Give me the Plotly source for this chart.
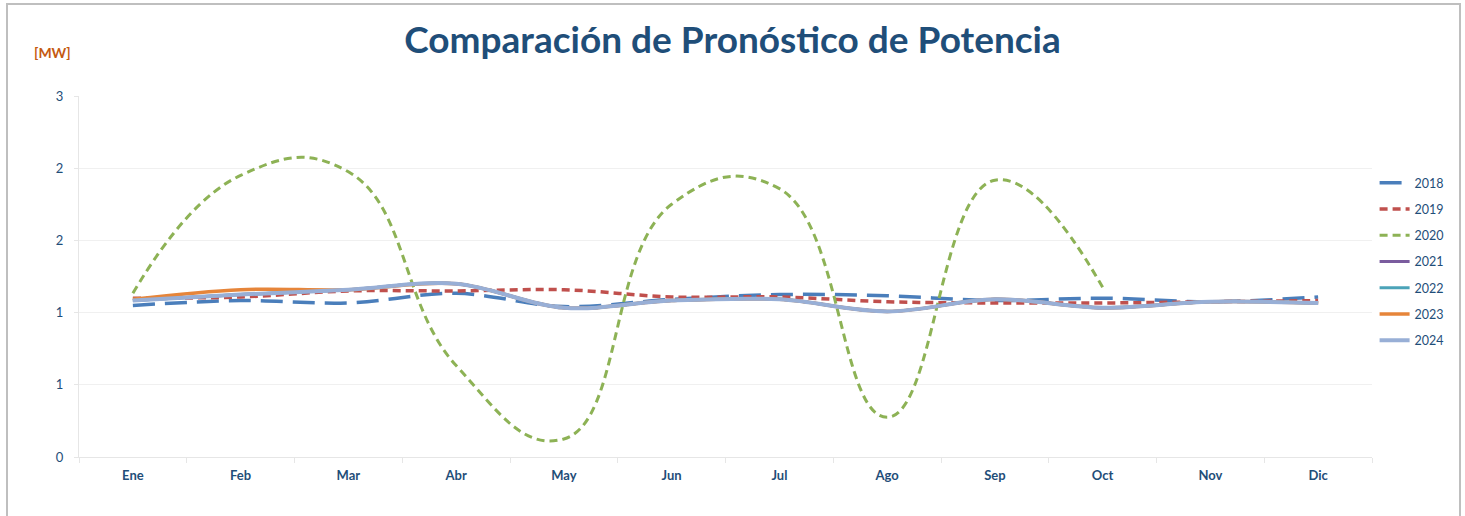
import plotly.graph_objects as go

meses = ['Ene', 'Feb', 'Mar', 'Abr', 'May', 'Jun', 'Jul', 'Ago', 'Sep', 'Oct', 'Nov', 'Dic']

p2018 = [1.26, 1.30, 1.28, 1.36, 1.25, 1.31, 1.35, 1.34, 1.30, 1.32, 1.29, 1.33]
p2019 = [1.32, 1.33, 1.38, 1.38, 1.39, 1.33, 1.33, 1.29, 1.28, 1.28, 1.29, 1.30]
p2020 = [1.36, 2.34, 2.37, 0.76, 0.15, 2.10, 2.23, 0.33, 2.30, 1.41, None, None]
p2021 = [1.30, 1.35, 1.39, 1.44, 1.24, 1.30, 1.31, 1.21, 1.31, 1.24, 1.29, 1.28]
p2022 = [1.30, 1.35, 1.39, 1.44, 1.24, 1.30, 1.31, 1.21, 1.31, 1.24, 1.29, 1.28]
p2023 = [1.31, 1.39, 1.39, 1.44, 1.24, 1.30, 1.31, 1.21, 1.31, 1.24, 1.29, 1.28]
p2024 = [1.30, 1.35, 1.39, 1.44, 1.24, 1.30, 1.31, 1.21, 1.31, 1.24, 1.29, 1.28]

# nombre, valores, color, ancho, guion, suavizado
series = [
    ('2018', p2018, '#4A7EBB', 3.5, '22px,10px', 1.0),
    ('2019', p2019, '#C0504D', 3.5, '8px,5px', 1.0),
    ('2020', p2020, '#8DB255', 3, '8px,5px', 1.3),
    ('2021', p2021, '#7A5C9E', 3, 'solid', 1.0),
    ('2022', p2022, '#4BA3B8', 3, 'solid', 1.0),
    ('2023', p2023, '#E6853A', 3.5, 'solid', 1.0),
    ('2024', p2024, '#98AFD6', 4, 'solid', 1.0),
]

azul = '#1F4E79'
fuente = 'Lato, Open Sans, sans-serif'

fig = go.Figure()
for nombre, valores, color, ancho, guion, suave in series:
    fig.add_trace(go.Scatter(
        x=meses, y=valores, name=nombre, mode='lines',
        line=dict(color=color, width=ancho, dash=guion, shape='spline', smoothing=suave),
        legendgroup=nombre, connectgaps=False
    ))

fig.update_layout(
    width=1465, height=516,
    paper_bgcolor='white', plot_bgcolor='white',
    margin=dict(l=79, r=93, t=96, b=59),
    title=dict(text='<b>Comparación de Pronóstico de Potencia</b>', x=0.5, xref='container',
               y=1 - 40 / 516, yanchor='middle',
               font=dict(family=fuente, size=37, color=azul)),
    font=dict(family=fuente, color=azul),
    legend=dict(x=1.002, y=0.80, xanchor='left', yanchor='top',
                font=dict(size=12.5, color=azul), tracegroupgap=7,
                bgcolor='rgba(0,0,0,0)'),
    showlegend=True,
)

fig.update_xaxes(
    type='category', showgrid=False, showline=True, linecolor='#E6E6E6', linewidth=1,
    ticks='outside', tickson='boundaries', ticklen=5, tickcolor='#E6E6E6',
    tickfont=dict(size=13, color=azul, family=fuente), tickprefix='<b>', ticksuffix='</b>',
    ticklabelstandoff=6, range=[-0.5, 11.5]
)
fig.update_yaxes(
    range=[0, 3], tickvals=[0, 0.6, 1.2, 1.8, 2.4, 3.0], tickformat='.0f',
    showgrid=True, gridcolor='#F0F0F0', gridwidth=1,
    showline=True, linecolor='#E6E6E6', zeroline=False,
    ticks='outside', ticklen=4, tickcolor='#E6E6E6',
    tickfont=dict(size=13, color=azul, family=fuente), tickprefix='<b>', ticksuffix='</b>',
    ticklabelstandoff=8
)

fig.add_annotation(text='<b>[MW]</b>', xref='paper', yref='paper', xanchor='center', yanchor='middle',
                   x=(52 - 79) / 1293, y=(457 - 52) / 361, showarrow=False,
                   font=dict(family=fuente, size=14, color='#C55A11'))

# marco del gráfico
fig.add_shape(type='rect', xref='paper', yref='paper',
              x0=(7 - 79) / 1293, x1=(1460 - 79) / 1293,
              y0=(457 - 530) / 361, y1=(457 - 4) / 361,
              line=dict(color='#BFBFBF', width=2), fillcolor='rgba(0,0,0,0)', layer='below')

fig.write_html('out.html', config={'displayModeBar': False},
               post_script="document.body.style.margin='0';")
